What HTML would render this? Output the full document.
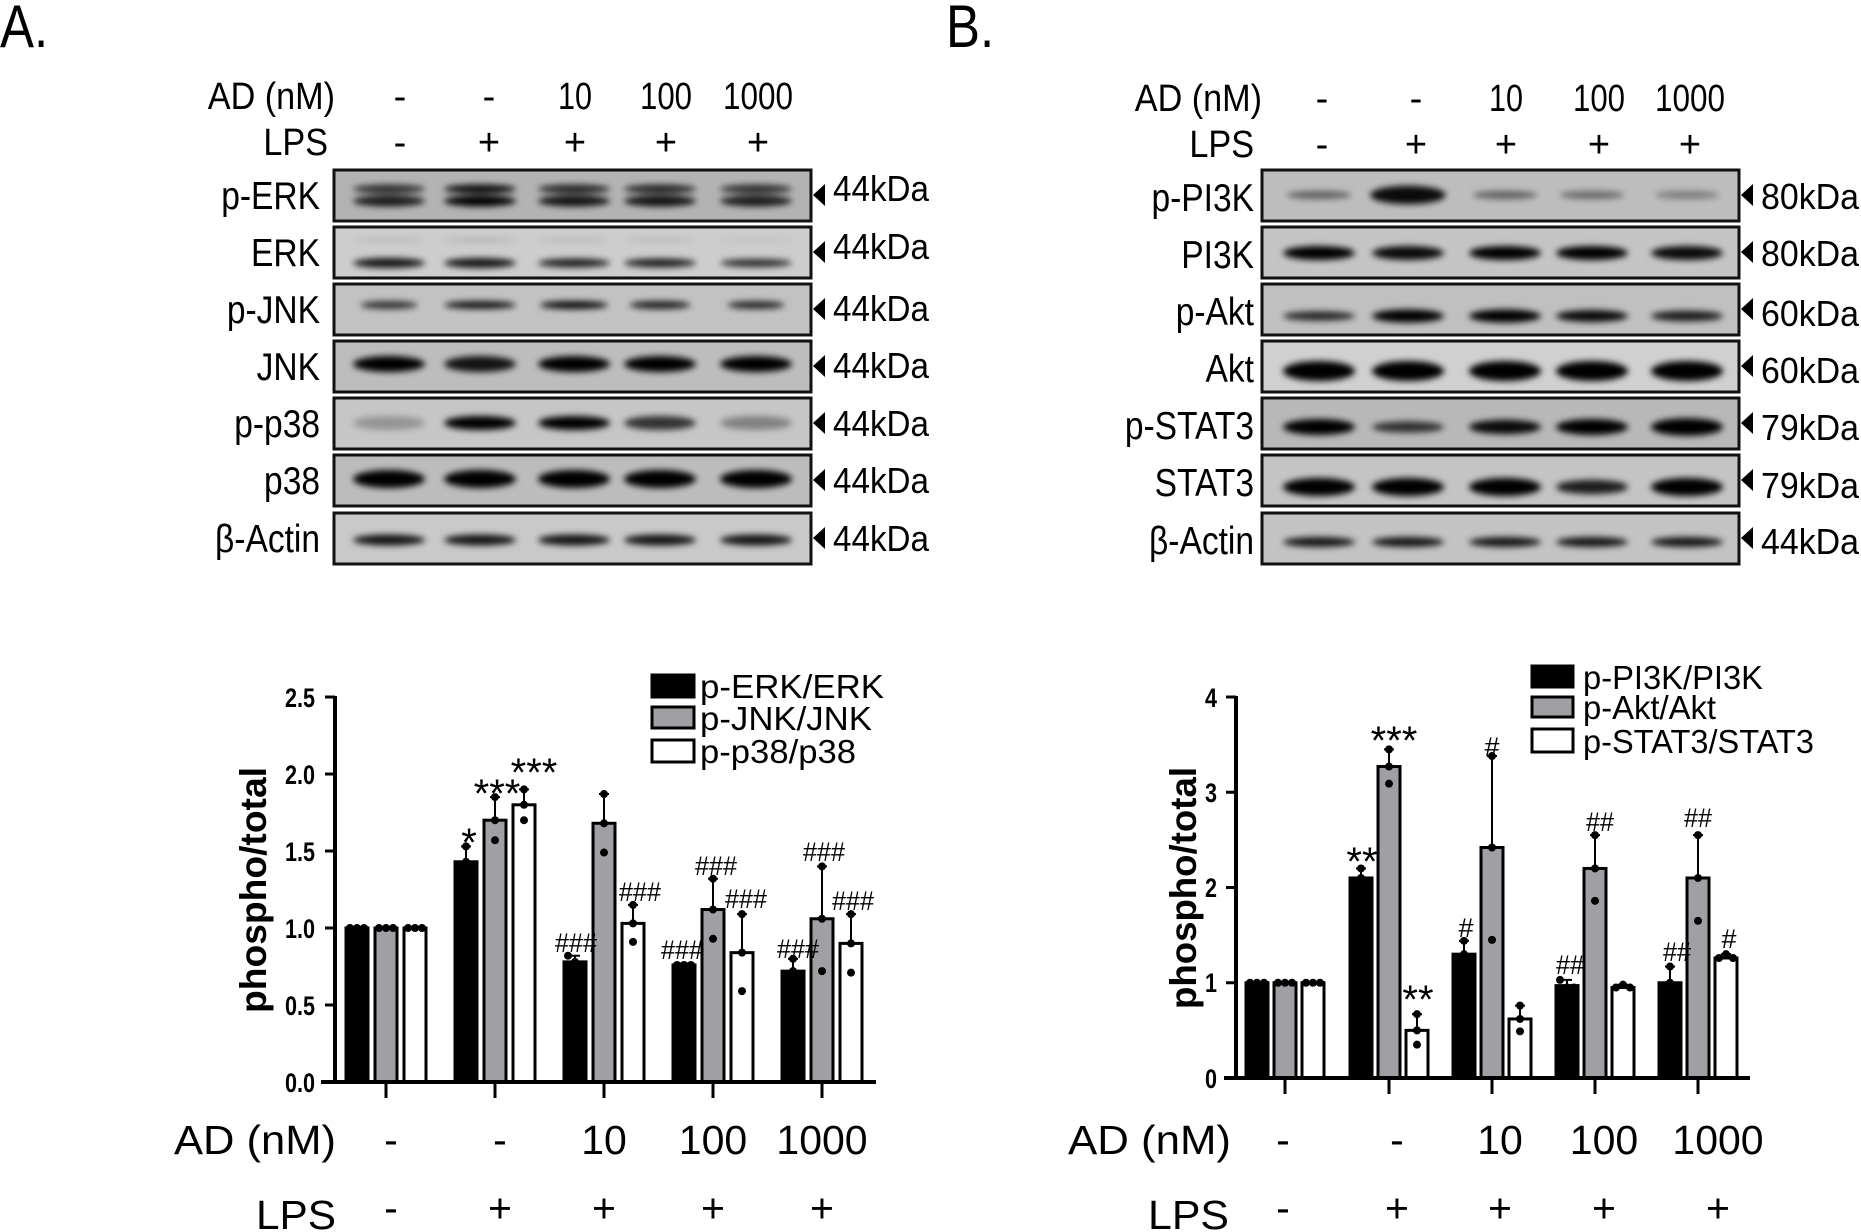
<!DOCTYPE html>
<html><head><meta charset="utf-8"><style>
html,body{margin:0;padding:0;background:#fff;width:1861px;height:1232px;overflow:hidden}
svg{display:block}
.n{font-family:"Liberation Sans Narrow","Liberation Sans",sans-serif;fill:#000}
.s{font-family:"Liberation Sans",sans-serif;fill:#000}
.b{font-family:"Liberation Sans",sans-serif;font-weight:bold;fill:#000}
</style></head><body>
<svg id="g" width="1861" height="1232" viewBox="0 0 1861 1232" xmlns="http://www.w3.org/2000/svg">
<defs><filter id="bl" x="-30%" y="-100%" width="160%" height="300%"><feGaussianBlur stdDeviation="3.2"/></filter></defs>
<g id="blots"></g>
<g id="charts"></g>

<!-- Panel letters -->
<g transform="translate(0,0) scale(0.85,1)"><text class="n" x="0" y="47" font-size="60">A.</text></g>
<g transform="translate(946,0) scale(0.85,1)"><text class="n" x="0" y="47" font-size="60">B.</text></g>

<!-- A header -->
<g class="n" font-size="38">
<g transform="translate(335,0) scale(0.9,1)"><text x="0" y="109" text-anchor="end">AD (nM)</text></g>
<text x="400" y="109" text-anchor="middle">-</text>
<text x="489" y="109" text-anchor="middle">-</text>
<text x="575" y="109" text-anchor="middle" textLength="34" lengthAdjust="spacingAndGlyphs">10</text>
<text x="666" y="109" text-anchor="middle" textLength="52" lengthAdjust="spacingAndGlyphs">100</text>
<text x="758" y="109" text-anchor="middle" textLength="70" lengthAdjust="spacingAndGlyphs">1000</text>
<g transform="translate(328,0) scale(0.9,1)"><text x="0" y="155" text-anchor="end">LPS</text></g>
<text x="400" y="155" text-anchor="middle">-</text>
<text x="489" y="155" text-anchor="middle">+</text>
<text x="575" y="155" text-anchor="middle">+</text>
<text x="666" y="155" text-anchor="middle">+</text>
<text x="758" y="155" text-anchor="middle">+</text>
</g>
<!-- A labels -->
<g class="n" font-size="39" text-anchor="end" transform="translate(320,0) scale(0.86,1)">
<text x="0" y="209">p-ERK</text>
<text x="0" y="266">ERK</text>
<text x="0" y="323">p-JNK</text>
<text x="0" y="380">JNK</text>
<text x="0" y="437">p-p38</text>
<text x="0" y="494">p38</text>
<text x="0" y="552">β-Actin</text>
</g>
<g class="n" font-size="36">
<text x="833" y="201" textLength="96" lengthAdjust="spacingAndGlyphs">44kDa</text>
<text x="833" y="259" textLength="96" lengthAdjust="spacingAndGlyphs">44kDa</text>
<text x="833" y="321" textLength="96" lengthAdjust="spacingAndGlyphs">44kDa</text>
<text x="833" y="378" textLength="96" lengthAdjust="spacingAndGlyphs">44kDa</text>
<text x="833" y="436" textLength="96" lengthAdjust="spacingAndGlyphs">44kDa</text>
<text x="833" y="493" textLength="96" lengthAdjust="spacingAndGlyphs">44kDa</text>
<text x="833" y="551" textLength="96" lengthAdjust="spacingAndGlyphs">44kDa</text>
</g>

<!-- B header -->
<g class="n" font-size="38">
<g transform="translate(1262,0) scale(0.9,1)"><text x="0" y="111" text-anchor="end">AD (nM)</text></g>
<text x="1322" y="111" text-anchor="middle">-</text>
<text x="1416" y="111" text-anchor="middle">-</text>
<text x="1506" y="111" text-anchor="middle" textLength="34" lengthAdjust="spacingAndGlyphs">10</text>
<text x="1599" y="111" text-anchor="middle" textLength="52" lengthAdjust="spacingAndGlyphs">100</text>
<text x="1690" y="111" text-anchor="middle" textLength="70" lengthAdjust="spacingAndGlyphs">1000</text>
<g transform="translate(1254,0) scale(0.9,1)"><text x="0" y="157" text-anchor="end">LPS</text></g>
<text x="1322" y="157" text-anchor="middle">-</text>
<text x="1416" y="157" text-anchor="middle">+</text>
<text x="1506" y="157" text-anchor="middle">+</text>
<text x="1599" y="157" text-anchor="middle">+</text>
<text x="1690" y="157" text-anchor="middle">+</text>
</g>
<g class="n" font-size="39" text-anchor="end" transform="translate(1254,0) scale(0.86,1)">
<text x="0" y="211">p-PI3K</text>
<text x="0" y="268">PI3K</text>
<text x="0" y="325">p-Akt</text>
<text x="0" y="382">Akt</text>
<text x="0" y="439">p-STAT3</text>
<text x="0" y="496">STAT3</text>
<text x="0" y="554">β-Actin</text>
</g>
<g class="n" font-size="36">
<text x="1761" y="209" textLength="98" lengthAdjust="spacingAndGlyphs">80kDa</text>
<text x="1761" y="266" textLength="98" lengthAdjust="spacingAndGlyphs">80kDa</text>
<text x="1761" y="326" textLength="98" lengthAdjust="spacingAndGlyphs">60kDa</text>
<text x="1761" y="383" textLength="98" lengthAdjust="spacingAndGlyphs">60kDa</text>
<text x="1761" y="440" textLength="98" lengthAdjust="spacingAndGlyphs">79kDa</text>
<text x="1761" y="498" textLength="98" lengthAdjust="spacingAndGlyphs">79kDa</text>
<text x="1761" y="554" textLength="98" lengthAdjust="spacingAndGlyphs">44kDa</text>
</g>

<!-- Chart A text -->
<g class="b" font-size="27" text-anchor="end" transform="translate(315,0) scale(0.8,1)">
<text x="0" y="707">2.5</text>
<text x="0" y="784">2.0</text>
<text x="0" y="861">1.5</text>
<text x="0" y="938">1.0</text>
<text x="0" y="1015">0.5</text>
<text x="0" y="1092">0.0</text>
</g>
<text class="b" font-size="37" transform="translate(266,890) rotate(-90)" text-anchor="middle" textLength="246" lengthAdjust="spacingAndGlyphs">phospho/total</text>
<g class="s" font-size="33">
<text x="700" y="698" textLength="184" lengthAdjust="spacingAndGlyphs">p-ERK/ERK</text>
<text x="700" y="730" textLength="172" lengthAdjust="spacingAndGlyphs">p-JNK/JNK</text>
<text x="700" y="763" textLength="156" lengthAdjust="spacingAndGlyphs">p-p38/p38</text>
</g>
<g class="s" font-size="40" text-anchor="middle">
<text x="469" y="856">*</text>
<text x="497" y="807">***</text>
<text x="534" y="786">***</text>
</g>
<g class="s" font-size="27" text-anchor="middle">
<text x="576" y="952" textLength="42" lengthAdjust="spacingAndGlyphs">###</text>
<text x="640" y="901" textLength="42" lengthAdjust="spacingAndGlyphs">###</text>
<text x="716" y="875" textLength="42" lengthAdjust="spacingAndGlyphs">###</text>
<text x="682" y="959" textLength="42" lengthAdjust="spacingAndGlyphs">###</text>
<text x="746" y="908" textLength="42" lengthAdjust="spacingAndGlyphs">###</text>
<text x="824" y="861" textLength="42" lengthAdjust="spacingAndGlyphs">###</text>
<text x="798" y="958" textLength="42" lengthAdjust="spacingAndGlyphs">###</text>
<text x="853" y="910" textLength="42" lengthAdjust="spacingAndGlyphs">###</text>
</g>
<g class="s" font-size="41">
<text x="174" y="1154" textLength="162" lengthAdjust="spacingAndGlyphs">AD (nM)</text>
<text x="391" y="1154" text-anchor="middle">-</text>
<text x="500" y="1154" text-anchor="middle">-</text>
<text x="604" y="1154" text-anchor="middle">10</text>
<text x="713" y="1154" text-anchor="middle">100</text>
<text x="822" y="1154" text-anchor="middle">1000</text>
<text x="256" y="1229" textLength="80" lengthAdjust="spacingAndGlyphs">LPS</text>
<text x="391" y="1222" text-anchor="middle">-</text>
<text x="500" y="1222" text-anchor="middle">+</text>
<text x="604" y="1222" text-anchor="middle">+</text>
<text x="713" y="1222" text-anchor="middle">+</text>
<text x="822" y="1222" text-anchor="middle">+</text>
</g>

<!-- Chart B text -->
<g class="b" font-size="27" text-anchor="end" transform="translate(1217,0) scale(0.8,1)">
<text x="0" y="707">4</text>
<text x="0" y="802">3</text>
<text x="0" y="897">2</text>
<text x="0" y="992">1</text>
<text x="0" y="1088">0</text>
</g>
<text class="b" font-size="37" transform="translate(1196,888) rotate(-90)" text-anchor="middle" textLength="242" lengthAdjust="spacingAndGlyphs">phospho/total</text>
<g class="s" font-size="33">
<text x="1583" y="689" textLength="180" lengthAdjust="spacingAndGlyphs">p-PI3K/PI3K</text>
<text x="1583" y="719" textLength="133" lengthAdjust="spacingAndGlyphs">p-Akt/Akt</text>
<text x="1583" y="753" textLength="231" lengthAdjust="spacingAndGlyphs">p-STAT3/STAT3</text>
</g>
<g class="s" font-size="40" text-anchor="middle">
<text x="1362" y="875">**</text>
<text x="1394" y="754">***</text>
<text x="1418" y="1013">**</text>
</g>
<g class="s" font-size="27" text-anchor="middle">
<text x="1466" y="937">#</text>
<text x="1492" y="756">#</text>
<text x="1570" y="974" textLength="28" lengthAdjust="spacingAndGlyphs">##</text>
<text x="1600" y="831" textLength="28" lengthAdjust="spacingAndGlyphs">##</text>
<text x="1677" y="961" textLength="28" lengthAdjust="spacingAndGlyphs">##</text>
<text x="1698" y="827" textLength="28" lengthAdjust="spacingAndGlyphs">##</text>
<text x="1729" y="948">#</text>
</g>
<g class="s" font-size="41">
<text x="1068" y="1154" textLength="163" lengthAdjust="spacingAndGlyphs">AD (nM)</text>
<text x="1283" y="1154" text-anchor="middle">-</text>
<text x="1397" y="1154" text-anchor="middle">-</text>
<text x="1500" y="1154" text-anchor="middle">10</text>
<text x="1604" y="1154" text-anchor="middle">100</text>
<text x="1718" y="1154" text-anchor="middle">1000</text>
<text x="1148" y="1229" textLength="81" lengthAdjust="spacingAndGlyphs">LPS</text>
<text x="1283" y="1222" text-anchor="middle">-</text>
<text x="1397" y="1222" text-anchor="middle">+</text>
<text x="1500" y="1222" text-anchor="middle">+</text>
<text x="1604" y="1222" text-anchor="middle">+</text>
<text x="1718" y="1222" text-anchor="middle">+</text>
</g>
</svg>
<script>
(function(){
var NS="http://www.w3.org/2000/svg";
function el(p,t,a){var e=document.createElementNS(NS,t);for(var k in a)e.setAttribute(k,a[k]);p.appendChild(e);return e;}
var blots=document.getElementById('blots');
var tops=[170,227,284,341,398,455,513];
function panel(x0,x1,lanes,rows,tri){
  rows.forEach(function(r,i){
    var y=tops[i]+(r.dy||0);
    el(blots,'rect',{x:x0,y:y,width:x1-x0,height:51,fill:r.bg,stroke:'#111',"stroke-width":3});
    var g=el(blots,'g',{filter:'url(#bl)'});
    r.b.forEach(function(bd){
      lanes.forEach(function(cx,j){
        var v=bd.v[j]; if(!v)return;
        el(g,'ellipse',{cx:cx+(bd.ox?bd.ox[j]:0),cy:y+bd.y,rx:(bd.rx||36)*(bd.w?bd.w[j]:1),ry:bd.ry*(bd.h?bd.h[j]:1),fill:'#000','fill-opacity':v});
      });
    });
    el(blots,'polygon',{points:(tri)+','+(y+25)+' '+(tri+12)+','+(y+14)+' '+(tri+12)+','+(y+36),fill:'#000'});
  });
}
panel(334,811,[389,480,574,660,756],[
 {bg:'#b3b3b3',b:[{y:19,ry:4.5,v:[.75,.95,.8,.8,.75]},{y:31,ry:5.5,v:[.85,1,.9,.9,.85]}]},
 {bg:'#cdcdcd',b:[{y:13,ry:2,v:[.12,.15,.12,.12,.08]},{y:36,ry:5,v:[.9,.9,.85,.85,.8],h:[1,1,.9,.9,.8]}]},
 {bg:'#c2c2c2',b:[{y:21,ry:4,v:[.75,.9,.95,.85,.8],w:[.8,1,.95,.85,.8]}]},
 {bg:'#bdbdbd',b:[{y:23,ry:8,v:[1,.9,1,1,1]}]},
 {bg:'#c6c6c6',b:[{y:25,ry:7,v:[.25,1,1,.75,.35]}]},
 {bg:'#bcbcbc',b:[{y:24,ry:9,v:[1,1,1,1,1]}]},
 {bg:'#c9c9c9',b:[{y:27,ry:5.5,v:[.9,.9,.9,.9,.9]}]}
],813);
panel(1262,1739,[1319,1408,1505,1592,1687],[
 {bg:'#bdbdbd',b:[{y:25,ry:4,v:[.5,.95,.5,.45,.35],h:[1,2.3,1,1,1],w:[.9,1.05,.9,.9,.9]}]},
 {bg:'#c5c5c5',b:[{y:26,ry:7,v:[1,.95,1,1,.95]}]},
 {bg:'#c0c0c0',b:[{y:32,ry:6,v:[.8,1,1,.95,.85],h:[.8,1.1,1.1,1,.9]}]},
 {bg:'#d0d0d0',b:[{y:30,ry:10,v:[1,1,1,1,1]}]},
 {bg:'#b8b8b8',b:[{y:29,ry:8,v:[1,.75,.95,1,1],h:[1,.7,.9,1,1.1]}]},
 {bg:'#c4c4c4',b:[{y:32,ry:9,v:[1,1,1,.85,1],h:[1,1,1,.8,1]}]},
 {bg:'#c3c3c3',b:[{y:29,ry:5,v:[.9,.9,.9,.9,.9]}]}
],1741);

var ch=document.getElementById('charts');
function chart(o){
  var fills=['#000','#a0a0a4','#fff'];
  o.data.forEach(function(grp,gi){
    grp.forEach(function(d,bi){
      var cx=o.ticks[gi]+o.off[bi], yt=o.y0-d.v*o.u;
      el(ch,'rect',{x:cx-11,y:yt,width:22,height:o.y0-yt,fill:fills[bi],stroke:'#000','stroke-width':3});
      if(d.e){var ye=o.y0-d.e*o.u;
        el(ch,'line',{x1:cx,y1:yt,x2:cx,y2:ye,stroke:'#000','stroke-width':2});
        el(ch,'line',{x1:cx-5,y1:ye,x2:cx+5,y2:ye,stroke:'#000','stroke-width':2});}
      (d.p||[]).forEach(function(pv,k){
        var dx=d.j?(k-1)*7:0;
        el(ch,'circle',{cx:cx+dx,cy:o.y0-pv*o.u,r:4,fill:'#000'});
      });
    });
  });
  el(ch,'line',{x1:o.ax,y1:o.top-1,x2:o.ax,y2:o.y0,stroke:'#000','stroke-width':4});
  el(ch,'line',{x1:o.xl,y1:o.y0,x2:o.xr,y2:o.y0,stroke:'#000','stroke-width':4});
  o.yt.forEach(function(v){var y=o.y0-v*o.u;el(ch,'line',{x1:o.ax-10,y1:y,x2:o.ax,y2:y,stroke:'#000','stroke-width':3});});
  o.ticks.forEach(function(t){el(ch,'line',{x1:t,y1:o.y0,x2:t,y2:o.y0+16,stroke:'#000','stroke-width':3});});
  o.leg.forEach(function(r,i){el(ch,'rect',{x:r[0],y:r[1],width:r[2],height:r[3],fill:fills[i],stroke:'#000','stroke-width':3});});
}
var one={v:1,p:[1,1,1],j:1};
chart({y0:1082,u:154,top:697,ax:335,xl:321,xr:876,ticks:[386,495,604,713,822],off:[-29,0,29],yt:[0,.5,1,1.5,2,2.5],
 leg:[[652,675,42,22],[652,707,42,21],[652,740,42,22]],
 data:[[one,one,one],
  [{v:1.43,e:1.53,p:[1.53,1.43]},{v:1.70,e:1.85,p:[1.57,1.70,1.85]},{v:1.80,e:1.90,p:[1.70,1.80,1.90]}],
  [{v:.78,e:.82,p:[.82,.78],j:1},{v:1.68,e:1.87,p:[1.49,1.68,1.87]},{v:1.03,e:1.15,p:[.91,1.03,1.15]}],
  [{v:.76,e:.77,p:[.76,.76,.76],j:1},{v:1.12,e:1.32,p:[.93,1.12,1.32]},{v:.84,e:1.09,p:[.59,.84,1.09]}],
  [{v:.72,e:.80,p:[.80,.72]},{v:1.06,e:1.40,p:[.72,1.06,1.40]},{v:.90,e:1.09,p:[.71,.90,1.09]}]]});
chart({y0:1078,u:95.25,top:697,ax:1236,xl:1224,xr:1750,ticks:[1285,1389,1492,1595,1698],off:[-28,0,28],yt:[0,1,2,3,4],
 leg:[[1532,666,41,21],[1532,697,41,20],[1532,729,41,23]],
 data:[[one,one,one],
  [{v:2.10,e:2.20,p:[2.0,2.1,2.2]},{v:3.27,e:3.45,p:[3.09,3.27,3.45]},{v:.50,e:.67,p:[.35,.50,.67]}],
  [{v:1.30,e:1.44,p:[1.2,1.3,1.44]},{v:2.42,e:3.38,p:[1.45,2.42,3.38]},{v:.62,e:.76,p:[.49,.62,.76]}],
  [{v:.97,e:1.03,p:[1.03,.95,.95],j:1},{v:2.20,e:2.55,p:[1.86,2.20,2.55]},{v:.95,e:.98,p:[.95,.98,.95],j:1}],
  [{v:1.00,e:1.17,p:[.9,1.0,1.17]},{v:2.10,e:2.55,p:[1.65,2.10,2.55]},{v:1.26,e:1.30,p:[1.26,1.30,1.26],j:1}]]});
})();
</script>
</body></html>
